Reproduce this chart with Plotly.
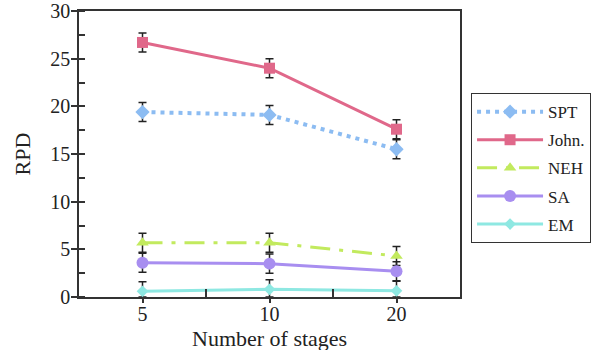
import plotly.graph_objects as go

stages = ["5", "10", "20"]
series_names = ["SPT", "John.", "NEH", "SA", "EM"]
spt = [19.4, 19.1, 15.5]
john = [26.7, 24.0, 17.6]
neh = [5.7, 5.7, 4.3]
sa = [3.6, 3.5, 2.7]
em = [0.6, 0.8, 0.65]
err_spt = [1.0, 1.0, 1.0]
err_john = [1.0, 1.0, 1.0]
err_neh = [1.0, 1.0, 1.0]
err_sa = [1.0, 1.0, 1.0]
err_em = [1.0, 1.0, 1.0]

values = [spt, john, neh, sa, em]
errors = [err_spt, err_john, err_neh, err_sa, err_em]
colors = ["#8cbcf2", "#e0688a", "#c2ea5e", "#a88ef0", "#8ee8e2"]
dashes = ["4px,5px", "solid", "20px,9px,4px,9px", "solid", "solid"]
symbols = ["diamond", "square", "triangle-up", "circle", "diamond"]
msizes = [11, 11, 11, 12, 9]
widths = [4, 3, 3, 3, 3]

xpos = list(range(len(stages)))
font = "Liberation Serif"

fig = go.Figure()
for name, v, e, c, d, s, ms, w in zip(series_names, values, errors, colors, dashes, symbols, msizes, widths):
    fig.add_trace(go.Scatter(
        x=xpos, y=v, name=name, legendgroup=name, mode="lines+markers",
        line=dict(color=c, width=w, dash=d),
        marker=dict(symbol=s, size=ms, color=c),
        error_y=dict(type="data", array=e, arrayminus=[min(a, b) for a, b in zip(e, v)],
                     visible=True, color="#222", thickness=1.5, width=4),
    ))

fig.update_layout(
    width=600, height=350,
    margin=dict(l=79, r=140, t=11, b=53, autoexpand=False),
    paper_bgcolor="white", plot_bgcolor="white",
    font=dict(family=font, color="#222"),
    showlegend=True,
    legend=dict(
        x=1.029, y=0.713, xanchor="left", yanchor="top",
        bordercolor="#333", borderwidth=1, bgcolor="white",
        font=dict(family=font, size=17, color="#222"),
        itemwidth=66, tracegroupgap=3,
    ),
    annotations=[dict(
        text="Number of stages", xref="paper", yref="paper", x=0.5, y=-0.146,
        xanchor="center", yanchor="middle", showarrow=False,
        font=dict(family=font, size=22, color="#222"),
    )],
)
fig.update_xaxes(
    range=[-0.5, 2.5], tickvals=xpos, ticktext=stages, automargin=False,
    showline=True, linecolor="#333", linewidth=1.5, mirror=True,
    ticks="outside", ticklen=4, tickcolor="#333", tickwidth=1.5,
    ticklabelstandoff=-6,
    showgrid=False, zeroline=False,
    tickfont=dict(family=font, size=20, color="#222"),
    minor=dict(tickvals=[0.5, 1.5], ticks="inside", ticklen=8, tickcolor="#333", tickwidth=1.5),
)
fig.update_yaxes(
    range=[0, 30], dtick=5, automargin=True,
    showline=True, linecolor="#333", linewidth=1.5, mirror=True,
    ticks="outside", ticklen=6, tickcolor="#333", tickwidth=1.5,
    ticklabelstandoff=-3,
    showgrid=False, zeroline=False,
    tickfont=dict(family=font, size=20, color="#222"),
    title=dict(text="RPD", font=dict(family=font, size=22, color="#222"), standoff=14),
    minor=dict(dtick=2.5, ticks="inside", ticklen=6, tickcolor="#333", tickwidth=1.5),
)

fig.write_html("out.html")
